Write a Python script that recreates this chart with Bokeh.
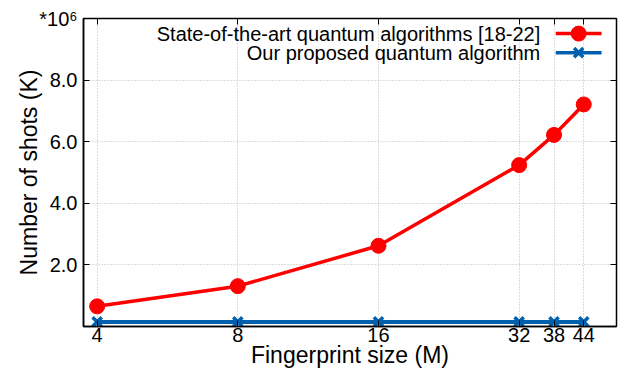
from bokeh.plotting import figure
from bokeh.models import (Range1d, FixedTicker, LogAxis, LinearAxis,
                          PrintfTickFormatter, ColumnDataSource, LinearScale)
from bokeh.core.properties import value
from bokeh.embed import file_html
from bokeh.resources import INLINE

# Fingerprint sizes (M) and shot counts, in units of 10^6
fingerprint_size = [4, 8, 16, 32, 38, 44]
shots_sota = [0.655, 1.31, 2.62, 5.24, 6.22, 7.21]
shots_ours = [0.15, 0.15, 0.15, 0.15, 0.15, 0.15]
x_tick_labels = ["4", "8", "16", "32", "38", "44"]
y_ticks = [2, 4, 6, 8]
y_max = 10
y_scale_note = "*10\u2076"

series_names = ["State-of-the-art quantum algorithms [18-22]",
                "Our proposed quantum algorithm"]

FONT = "Liberation Sans"
RED = "#ff0000"
BLUE = "#0060ad"

p = figure(width=626, height=373, x_axis_type="log",
           x_range=Range1d(3.74, 51.7), y_range=Range1d(0, y_max),
           output_backend="svg", toolbar_location=None,
           min_border_left=83, min_border_right=10,
           min_border_top=18, min_border_bottom=47)
p.background_fill_color = "white"
p.border_fill_color = "white"
p.outline_line_color = "black"
p.outline_line_width = 1.5

# Axes; the top tick of the y axis carries the 10^6 multiplier
xa = p.xaxis[0]
xa.ticker = FixedTicker(ticks=fingerprint_size)
xa.major_label_overrides = {v: s for v, s in zip(fingerprint_size, x_tick_labels)}
xa.axis_label = "Fingerprint size (M)"
ya = p.yaxis[0]
ya.ticker = FixedTicker(ticks=y_ticks + [y_max])
ya.formatter = PrintfTickFormatter(format="%.1f")
ya.major_label_overrides = {y_max: y_scale_note}
ya.axis_label = "Number of shots (K)"
for ax in (xa, ya):
    ax.major_label_text_font = FONT
    ax.major_label_text_font_size = "20px"
    ax.major_label_text_color = "black"
    ax.axis_label_text_font = FONT
    ax.axis_label_text_font_size = "23px"
    ax.axis_label_text_font_style = "normal"
    ax.axis_label_text_color = "black"
    ax.axis_line_color = "black"
    ax.axis_line_width = 1.5
    ax.major_tick_in = 6
    ax.major_tick_out = 0
    ax.minor_tick_line_color = None
    ax.major_tick_line_width = 1
xa.major_label_standoff = 1
xa.axis_label_standoff = -3
ya.major_label_standoff = 6
ya.axis_label_standoff = -6

# Mirrored tick marks on the top and right edges
top = LogAxis(ticker=FixedTicker(ticks=fingerprint_size),
              major_label_overrides={v: "" for v in fingerprint_size},
              major_tick_in=6, major_tick_out=0, minor_tick_line_color=None,
              axis_line_color=None, major_label_standoff=0)
right = LinearAxis(ticker=FixedTicker(ticks=y_ticks),
                   major_label_overrides={v: "" for v in y_ticks},
                   major_tick_in=6, major_tick_out=0, minor_tick_line_color=None,
                   axis_line_color=None, major_label_standoff=0)
p.add_layout(top, "above")
p.add_layout(right, "right")

# Dotted grid
for g in (p.xgrid[0], p.ygrid[0]):
    g.grid_line_color = "#b8b8b8"
    g.grid_line_dash = "1 2"
    g.grid_line_width = 1
p.xgrid[0].ticker = FixedTicker(ticks=fingerprint_size)
p.ygrid[0].ticker = FixedTicker(ticks=y_ticks)

# Series
src = ColumnDataSource(dict(x=fingerprint_size, a=shots_sota, b=shots_ours))
p.line("x", "b", source=src, color=BLUE, line_width=4)
p.scatter("x", "b", source=src, marker="x", size=13, line_color=BLUE, line_width=3.5)
p.line("x", "a", source=src, color=RED, line_width=3.5)
p.scatter("x", "a", source=src, marker="circle", size=15, fill_color=RED, line_color=RED)

# Legend drawn in a unit range over the frame, samples to the right of the text
p.extra_x_ranges = {"leg": Range1d(0, 1)}
p.extra_y_ranges = {"leg": Range1d(0, 1)}
p.extra_x_scales = {"leg": LinearScale()}
p.extra_y_scales = {"leg": LinearScale()}
leg = ColumnDataSource(dict(
    tx=[0.857, 0.857], ty=[0.951, 0.889], label=series_names,
    x0=[0.886, 0.886], x1=[0.972, 0.972], xm=[0.929, 0.929],
    color=[RED, BLUE]))
p.text("tx", "ty", text="label", source=leg, x_range_name="leg", y_range_name="leg",
       text_align="right", text_baseline="middle", text_font=value(FONT),
       text_font_size="20px", text_color="black")
p.segment("x0", "ty", "x1", "ty", source=leg, color="color", line_width=3.5,
          x_range_name="leg", y_range_name="leg")
p.scatter([0.929], [0.951], marker="circle", size=15, color=RED,
          x_range_name="leg", y_range_name="leg")
p.scatter([0.929], [0.889], marker="x", size=13, line_color=BLUE, line_width=3.5,
          x_range_name="leg", y_range_name="leg")

open("out.html", "w").write(file_html(p, INLINE))
